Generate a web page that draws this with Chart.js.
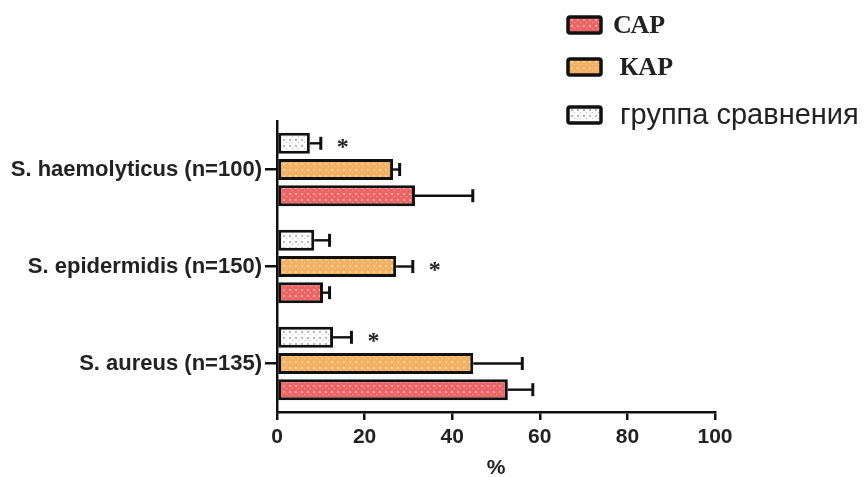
<!DOCTYPE html>
<html><head><meta charset="utf-8">
<script src="https://cdn.jsdelivr.net/npm/chart.js@4"></script>
<style>html,body{margin:0;padding:0;background:#fff;}#wrap{width:864px;height:477px;position:relative;}</style>
</head><body><div id="wrap"><canvas id="c" width="864" height="477"></canvas></div>
<script>
const categories = ['S. haemolyticus (n=100)', 'S. epidermidis (n=150)', 'S. aureus (n=135)'];
const seriesNames = ['группа сравнения', ' КАР', 'САР'];
const compValues = [7.5, 8.5, 12.8];
const compErrors = [2.5, 3.5, 4.2];
const kapValues = [26.5, 27.2, 44.8];
const kapErrors = [1.5, 3.8, 11.2];
const sapValues = [31.5, 10.5, 52.7];
const sapErrors = [13.2, 1.5, 5.7];
const compStars = [true, false, true];
const kapStars = [false, true, false];
const sapStars = [false, false, false];
const xTicks = [0, 20, 40, 60, 80, 100];
const xTitle = '%';

function makePattern(base, dot) {
  const p = document.createElement('canvas');
  p.width = 6; p.height = 6;
  const g = p.getContext('2d');
  g.fillStyle = base; g.fillRect(0, 0, 6, 6);
  g.fillStyle = dot;
  g.fillRect(1, 1, 2, 2);
  g.fillRect(4, 4, 1, 1);
  return g.createPattern(p, 'repeat');
}
const ctx = document.getElementById('c').getContext('2d');
const patComp = makePattern('#ffffff', '#b8b8b8');
const patKap = makePattern('#f4b060', '#fbd8a8');
const patSap = makePattern('#ee6464', '#f8a8a8');

const errorsBy = [compErrors, kapErrors, sapErrors];
const starsBy = [compStars, kapStars, sapStars];

const errPlugin = {
  id: 'errs',
  afterDatasetsDraw(chart) {
    const c = chart.ctx, xs = chart.scales.x;
    chart.data.datasets.forEach((ds, di) => {
      const meta = chart.getDatasetMeta(di);
      meta.data.forEach((bar, i) => {
        const v = ds.data[i], e = errorsBy[di][i];
        const x0 = xs.getPixelForValue(v), x1 = xs.getPixelForValue(v + e);
        c.save();
        c.strokeStyle = '#111'; c.lineWidth = 2.4;
        c.beginPath(); c.moveTo(x0, bar.y); c.lineTo(x1, bar.y); c.stroke();
        c.lineWidth = 3;
        c.beginPath(); c.moveTo(x1, bar.y - 6.5); c.lineTo(x1, bar.y + 6.5); c.stroke();
        if (starsBy[di][i]) {
          c.fillStyle = '#222';
          c.font = 'bold 24px "Liberation Serif"';
          c.textAlign = 'center'; c.textBaseline = 'middle';
          c.fillText('*', x1 + 22, bar.y + 4);
        }
        c.restore();
      });
    });
  }
};

const legendItems = [
  {text: 'САР', pat: patSap, font: 'bold 26px "Liberation Serif"', y: 25, tx: 613},
  {text: ' КАР', pat: patKap, font: 'bold 26px "Liberation Serif"', y: 67, tx: 613},
  {text: 'группа сравнения', pat: patComp, font: '29px "Liberation Sans"', y: 115, tx: 620}
];
const legendPlugin = {
  id: 'legend2',
  afterDraw(chart) {
    const c = chart.ctx;
    legendItems.forEach(it => {
      c.save();
      c.fillStyle = it.pat;
      c.strokeStyle = '#111'; c.lineWidth = 3.5;
      c.beginPath();
      c.roundRect(568, it.y - 8, 33, 16, 2);
      c.fill(); c.stroke();
      c.fillStyle = '#222';
      c.font = it.font;
      c.textAlign = 'left'; c.textBaseline = 'middle';
      c.fillText(it.text, it.tx, it.y + 1);
      c.restore();
    });
  }
};

const common = {borderColor: '#111', borderWidth: 3, borderSkipped: false, barPercentage: 0.8, categoryPercentage: 0.81};
new Chart(ctx, {
  type: 'bar',
  data: {
    labels: categories,
    datasets: [
      Object.assign({label: seriesNames[0], data: compValues, backgroundColor: patComp}, common),
      Object.assign({label: seriesNames[1], data: kapValues, backgroundColor: patKap}, common),
      Object.assign({label: seriesNames[2], data: sapValues, backgroundColor: patSap}, common)
    ]
  },
  options: {
    indexAxis: 'y',
    responsive: false,
    animation: false,
    layout: {padding: {top: 121, right: 149, left: 0, bottom: 0}},
    plugins: {legend: {display: false}, tooltip: {enabled: false}},
    scales: {
      x: {
        min: 0, max: 100,
        afterBuildTicks(s) { s.ticks = xTicks.map(v => ({value: v})); },
        afterFit(s) { s.height = 65; },
        grid: {display: true, drawOnChartArea: false, drawTicks: true, tickLength: 8, color: '#111', lineWidth: 2.5},
        border: {display: true, color: '#111', width: 2.5},
        ticks: {color: '#222', font: {family: 'Liberation Sans', size: 21, weight: 'bold'}, padding: 5},
        title: {display: true, text: xTitle, color: '#222', font: {family: 'Liberation Sans', size: 21, weight: 'bold'}, padding: {top: 0, bottom: -4}}
      },
      y: {
        afterFit(s) { s.width = 277; },
        grid: {display: true, drawOnChartArea: false, drawTicks: true, tickLength: 12, offset: false, color: '#111', lineWidth: 2.5},
        border: {display: true, color: '#111', width: 2.5},
        ticks: {color: '#222', font: {family: 'Liberation Sans', size: 22, weight: 'bold'}, padding: 3}
      }
    }
  },
  plugins: [errPlugin, legendPlugin]
});
</script></body></html>
